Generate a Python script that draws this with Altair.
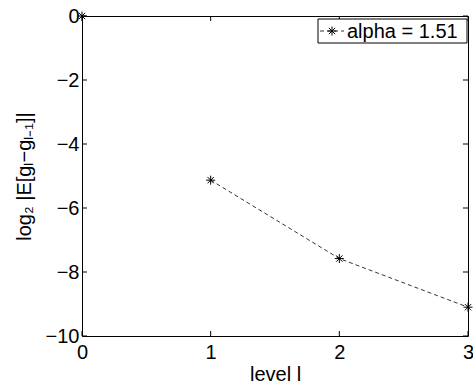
import altair as alt
import pandas as pd

# ---- data ----
levels = [0, 1, 2, 3]
log2_diff = [0.0, -5.13, -7.58, -9.10]
x_ticks = [0, 1, 2, 3]
y_ticks = [0, -2, -4, -6, -8, -10]
legend_label = ["alpha = 1.51"]
x_title = "level l"
y_title = "log₂ |E[gₗ−gₗ₋₁]|"

W, H = 386, 320
FONT = "Liberation Sans"
FS = 20

df = pd.DataFrame({"level": levels, "val": log2_diff})
line_df = df[df["level"] >= 1]
xt = pd.DataFrame({"level": x_ticks})
yt = pd.DataFrame({"val": y_ticks})
leg = pd.DataFrame({"label": legend_label})

xs = alt.Scale(domain=[0, 3], nice=False, zero=False)
ys = alt.Scale(domain=[-10, 0], nice=False, zero=False)

star = "M-1,0L1,0M0,-1L0,1M-0.7,-0.7L0.7,0.7M-0.7,0.7L0.7,-0.7"

x_axis = alt.Axis(
    values=x_ticks, title=x_title, format="d", ticks=False, domain=False, grid=False,
    labelFontSize=FS, titleFontSize=FS, labelPadding=6, titlePadding=2,
    titleFontWeight="normal", labelColor="black", titleColor="black",
    labelFont=FONT, titleFont=FONT, labelFlush=False)
y_axis = alt.Axis(
    values=y_ticks, title=y_title, format="d", ticks=False, domain=False, grid=False,
    labelFontSize=FS, titleFontSize=FS, labelPadding=3, titlePadding=11,
    titleFontWeight="normal", labelColor="black", titleColor="black",
    labelFont=FONT, titleFont=FONT, labelFlush=False)


def X():
    return alt.X("level:Q", scale=xs, axis=x_axis, title=x_title)


def Y():
    return alt.Y("val:Q", scale=ys, axis=y_axis, title=y_title)


line = alt.Chart(line_df).mark_line(color="black", strokeDash=[4, 3], strokeWidth=0.8).encode(
    x=X(), y=Y())
points = alt.Chart(df).mark_point(shape=star, size=81, color="black", strokeWidth=1,
                                  filled=False, opacity=1).encode(x=X(), y=Y())

tick_len = 5
xt_bot = alt.Chart(xt).mark_rule(color="black", strokeWidth=1).encode(
    x=X(), y=alt.value(H), y2=alt.value(H - tick_len))
xt_top = alt.Chart(xt).mark_rule(color="black", strokeWidth=1).encode(
    x=X(), y=alt.value(0), y2=alt.value(tick_len))
yt_left = alt.Chart(yt).mark_rule(color="black", strokeWidth=1).encode(
    y=Y(), x=alt.value(0), x2=alt.value(tick_len))
yt_right = alt.Chart(yt).mark_rule(color="black", strokeWidth=1).encode(
    y=Y(), x=alt.value(W - tick_len), x2=alt.value(W))

# legend box (manual, MATLAB style)
lx0, lx1, ly0, ly1 = 236, 385, 3, 27
lyc = (ly0 + ly1) / 2
leg_box = alt.Chart(leg).mark_rect(fill="white", stroke="black", strokeWidth=1).encode(
    x=alt.value(lx0), x2=alt.value(lx1), y=alt.value(ly0), y2=alt.value(ly1))
leg_line = alt.Chart(leg).mark_rule(color="black", strokeDash=[4, 3], strokeWidth=0.8).encode(
    x=alt.value(lx0 + 2), x2=alt.value(lx0 + 26), y=alt.value(lyc))
leg_star = alt.Chart(leg).mark_point(shape=star, size=81, color="black", strokeWidth=1,
                                     filled=False, opacity=1).encode(
    x=alt.value(lx0 + 14), y=alt.value(lyc))
leg_text = alt.Chart(leg).mark_text(align="left", baseline="middle", font=FONT,
                                    fontSize=FS, color="black").encode(
    x=alt.value(lx0 + 29), y=alt.value(lyc + 1), text="label:N")

chart = alt.layer(
    line, points, xt_bot, xt_top, yt_left, yt_right,
    leg_box, leg_line, leg_star, leg_text
).properties(
    width=W, height=H,
    autosize=alt.AutoSizeParams(type="none"),
    padding={"left": 82, "top": 16, "right": 5, "bottom": 50},
    background="white",
).configure_view(stroke="black", strokeWidth=1)

chart.save("out.html", embed_options={"renderer": "svg", "actions": False})
